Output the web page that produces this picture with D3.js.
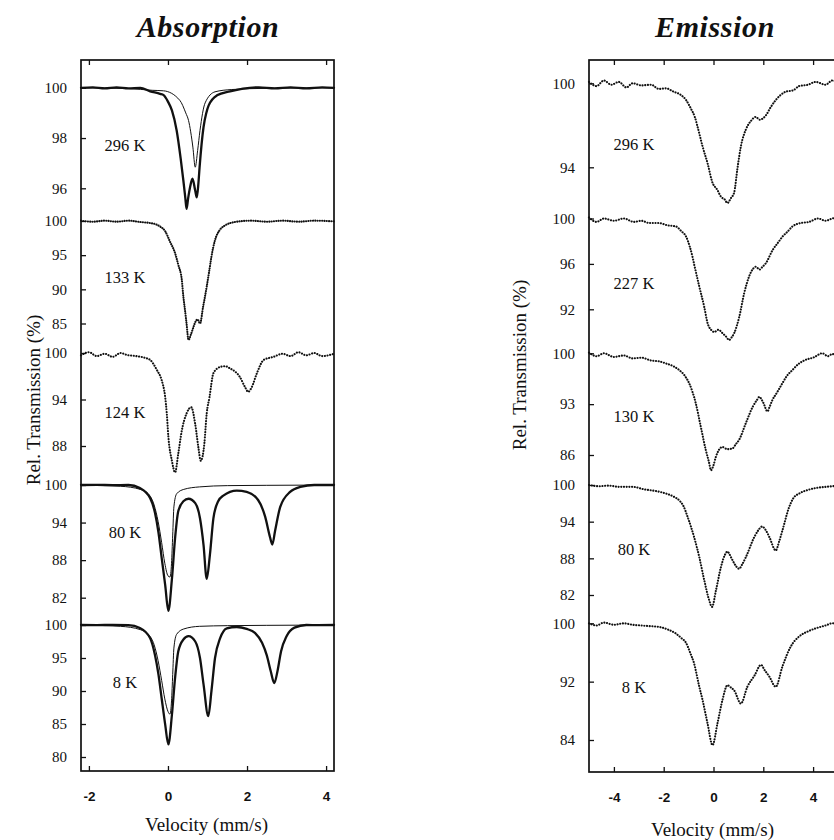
<!DOCTYPE html>
<html>
<head>
<meta charset="utf-8">
<script src="https://cdn.jsdelivr.net/npm/d3@7"></script>
<style>
  body { margin: 0; background: #fff; }
  svg text { fill: #111; }
</style>
</head>
<body>
<svg id="fig" width="834" height="840"></svg>
<script>
// ---- tick values and labels ----
const absVelTicks = [-2, 0, 2, 4];
const emiVelTicks = [-4, -2, 0, 2, 4];
const absTemps = ["296 K", "133 K", "124 K", "80 K", "8 K"];
const emiTemps = ["296 K", "227 K", "130 K", "80 K", "8 K"];
const absYTicks = [[100, 98, 96], [100, 95, 90, 85], [100, 94, 88], [100, 94, 88, 82], [100, 95, 90, 85, 80]];
const emiYTicks = [[100, 94], [100, 96, 92], [100, 93, 86], [100, 94, 88, 82], [100, 92, 84]];

// ---- absorption spectra: [velocity (mm/s), rel. transmission (%)] ----
const abs296 = [[-2.2,100.0],[-1.9,100.02],[-1.6,99.98],[-1.3,100.02],[-1.0,99.98],[-0.7,100.0],[-0.45,99.86],[-0.2,99.76],[-0.11,99.71],[0.0,99.45],[0.1,99.1],[0.22,98.3],[0.32,97.2],[0.39,96.3],[0.44,95.6],[0.47,95.18],[0.51,95.6],[0.56,96.05],[0.62,96.38],[0.69,95.9],[0.73,95.64],[0.77,96.2],[0.8,96.84],[0.9,98.44],[0.97,99.0],[1.03,99.3],[1.24,99.7],[1.57,99.86],[1.9,99.97],[2.3,100.02],[2.7,99.98],[3.1,100.02],[3.5,99.98],[3.9,100.02],[4.2,100.0]];
const abs296Fit = [[-2.2,100],[-1.0,99.97],[-0.4,99.9],[-0.11,99.88],[0.3,99.5],[0.45,99.0],[0.52,98.7],[0.63,97.64],[0.69,96.84],[0.75,97.5],[0.81,98.3],[0.94,99.4],[1.19,99.84],[1.6,99.93],[2.5,99.98],[4.2,100]];
const abs133 = [[-2.2,100.05],[-1.9,99.9],[-1.6,100.05],[-1.3,99.9],[-1.0,100.05],[-0.7,99.85],[-0.45,99.7],[-0.3,99.5],[-0.2,99.2],[-0.07,98.5],[0.05,97.0],[0.18,95.3],[0.26,93.6],[0.35,91.4],[0.39,88.9],[0.43,87.0],[0.47,85.0],[0.52,82.6],[0.58,83.4],[0.64,84.4],[0.7,85.3],[0.75,85.6],[0.81,85.0],[0.89,87.5],[0.98,90.4],[1.06,93.3],[1.1,94.8],[1.19,97.2],[1.3,98.6],[1.4,99.2],[1.74,99.9],[2.1,100.05],[2.5,99.9],[2.9,100.05],[3.3,99.9],[3.7,100.05],[4.2,99.95]];
const abs124 = [[-2.2,99.7],[-2.0,100.1],[-1.8,99.6],[-1.6,99.9],[-1.4,99.5],[-1.2,100.0],[-1.04,99.75],[-0.8,99.6],[-0.6,99.4],[-0.45,99.1],[-0.28,97.8],[-0.16,96.5],[-0.07,94.3],[-0.03,92.2],[0.01,89.2],[0.1,86.1],[0.18,84.6],[0.26,87.0],[0.35,90.0],[0.47,92.2],[0.59,93.0],[0.69,90.8],[0.77,87.8],[0.83,86.1],[0.92,88.3],[0.98,92.2],[1.05,94.3],[1.15,97.4],[1.32,98.2],[1.45,98.3],[1.57,98.0],[1.7,97.6],[1.82,96.9],[1.95,95.6],[2.03,95.0],[2.12,95.6],[2.25,97.4],[2.42,99.1],[2.67,99.5],[2.9,99.9],[3.1,99.6],[3.3,100.1],[3.5,99.7],[3.7,100.0],[3.9,99.6],[4.2,99.9]];
const abs80 = [[-2.2,100],[-1.8,100.02],[-1.4,99.98],[-1.0,100.0],[-0.71,99.5],[-0.45,97.9],[-0.33,95.6],[-0.24,92.4],[-0.16,88.4],[-0.07,84.0],[0.01,79.9],[0.1,85.0],[0.18,91.5],[0.26,95.8],[0.39,97.4],[0.52,97.8],[0.69,97.1],[0.81,94.7],[0.9,90.4],[0.98,85.0],[1.06,88.8],[1.15,94.7],[1.27,97.4],[1.4,98.3],[1.74,99.1],[1.99,98.9],[2.28,97.6],[2.46,94.9],[2.58,91.7],[2.64,90.5],[2.71,92.7],[2.84,96.5],[3.09,98.9],[3.35,99.7],[3.7,100.0],[4.2,100.0]];
const abs80Fit = [[-2.2,100],[-1.2,99.8],[-0.7,99.3],[-0.5,98.6],[-0.35,96.8],[-0.25,94.2],[-0.16,90.8],[-0.08,87.5],[0.0,85.5],[0.05,85.3],[0.09,87.5],[0.12,92.0],[0.15,96.5],[0.22,98.6],[0.4,99.3],[0.8,99.7],[1.5,99.9],[2.5,99.95],[4.2,100]];
const abs8 = [[-2.2,100],[-1.8,99.98],[-1.4,100.02],[-1.0,99.97],[-0.71,99.55],[-0.45,98.0],[-0.33,95.5],[-0.24,92.5],[-0.16,88.9],[-0.07,84.9],[0.01,81.9],[0.1,86.4],[0.18,92.0],[0.26,96.0],[0.39,97.8],[0.52,98.3],[0.69,97.5],[0.81,95.0],[0.9,91.0],[1.02,86.2],[1.1,90.0],[1.19,95.0],[1.32,98.0],[1.49,99.5],[1.74,99.7],[1.99,99.4],[2.2,98.8],[2.38,97.3],[2.5,95.4],[2.6,93.0],[2.69,91.2],[2.77,93.0],[2.86,96.0],[3.0,98.3],[3.2,99.6],[3.5,100.0],[3.8,99.98],[4.2,100]];
const abs8Fit = [[-2.2,100],[-1.2,99.8],[-0.7,99.3],[-0.5,98.6],[-0.35,97.0],[-0.25,94.6],[-0.16,91.6],[-0.08,88.8],[0.0,86.9],[0.05,86.5],[0.09,88.5],[0.12,92.5],[0.15,96.5],[0.22,98.6],[0.4,99.4],[0.8,99.8],[1.5,99.9],[2.5,99.95],[4.2,100]];

// ---- emission spectra ----
const emi296 = [[-5.0,100.1],[-4.7,99.8],[-4.4,100.2],[-4.1,99.9],[-3.8,100.1],[-3.5,99.7],[-3.25,100.0],[-2.9,99.85],[-2.5,99.9],[-2.2,99.6],[-1.91,99.64],[-1.6,99.4],[-1.31,99.17],[-1.1,98.8],[-0.91,98.2],[-0.75,97.6],[-0.64,96.9],[-0.44,95.5],[-0.24,94.3],[-0.04,92.9],[0.15,92.4],[0.3,91.9],[0.45,91.7],[0.56,91.45],[0.7,91.8],[0.83,92.2],[0.96,93.9],[1.1,95.5],[1.3,96.7],[1.5,97.3],[1.7,97.6],[1.85,97.4],[2.1,97.7],[2.3,98.3],[2.5,98.8],[2.9,99.4],[3.2,99.5],[3.44,99.8],[3.8,99.9],[4.1,100.1],[4.5,99.9],[4.77,100.2],[5.0,100.1]];
const emi227 = [[-5.0,100.1],[-4.7,99.7],[-4.4,100.0],[-4.0,99.8],[-3.6,100.0],[-3.2,99.7],[-2.9,99.8],[-2.58,99.6],[-2.2,99.6],[-1.85,99.4],[-1.51,99.3],[-1.3,98.9],[-1.1,98.4],[-0.95,97.5],[-0.84,96.6],[-0.78,96.0],[-0.57,94.0],[-0.37,92.2],[-0.24,90.8],[-0.1,90.2],[0.03,90.0],[0.2,90.2],[0.36,89.9],[0.5,89.6],[0.63,89.3],[0.75,89.6],[0.83,89.9],[1.03,91.3],[1.23,93.4],[1.43,94.9],[1.6,95.6],[1.7,95.75],[1.85,95.5],[1.97,95.75],[2.1,96.05],[2.37,97.2],[2.6,97.9],[2.77,98.4],[3.0,98.9],[3.17,99.3],[3.5,99.6],[3.84,99.7],[4.2,100.0],[4.5,99.8],[4.77,100.0],[5.0,100.1]];
const emi130 = [[-5.0,100.1],[-4.7,99.6],[-4.4,100.0],[-4.0,99.5],[-3.6,99.7],[-3.25,99.3],[-2.9,99.4],[-2.5,99.0],[-2.2,98.9],[-1.91,98.6],[-1.6,98.2],[-1.38,97.7],[-1.15,96.9],[-0.98,95.9],[-0.71,93.1],[-0.51,89.9],[-0.31,86.7],[-0.18,85.0],[-0.1,83.9],[0.0,84.6],[0.1,85.8],[0.2,86.6],[0.36,87.1],[0.55,86.8],[0.76,86.9],[0.9,87.5],[1.03,88.1],[1.3,90.4],[1.57,92.6],[1.75,93.6],[1.84,94.0],[2.0,93.2],[2.17,92.0],[2.25,92.6],[2.37,93.6],[2.55,94.6],[2.77,95.9],[2.95,96.9],[3.17,97.7],[3.4,98.5],[3.7,99.1],[4.0,99.4],[4.37,100.0],[4.6,99.6],[4.77,99.9],[5.0,99.6]];
const emi80 = [[-5.0,100.0],[-4.6,99.8],[-4.2,99.9],[-3.8,99.7],[-3.25,99.7],[-2.8,99.3],[-2.3,99.0],[-1.91,98.6],[-1.6,98.1],[-1.38,97.5],[-1.2,96.5],[-1.04,94.8],[-0.78,91.5],[-0.57,88.2],[-0.37,84.4],[-0.17,81.1],[-0.06,80.05],[0.1,82.8],[0.3,86.6],[0.45,88.5],[0.56,89.1],[0.7,88.2],[0.83,87.2],[1.03,86.3],[1.15,87.0],[1.3,88.2],[1.64,91.5],[1.8,92.6],[1.95,93.2],[2.1,92.6],[2.24,91.5],[2.5,89.3],[2.64,90.8],[2.77,92.6],[3.04,96.4],[3.2,97.8],[3.44,98.6],[3.8,99.2],[4.1,99.5],[4.5,99.7],[4.77,99.8],[5.0,99.9]];
const emi8 = [[-5.0,100.0],[-4.7,99.7],[-4.4,100.1],[-4.0,99.8],[-3.6,100.0],[-3.25,99.8],[-2.9,99.7],[-2.5,99.6],[-2.18,99.5],[-1.8,99.1],[-1.51,98.6],[-1.3,98.0],[-1.1,97.3],[-0.94,96.0],[-0.78,94.5],[-0.57,91.3],[-0.44,89.5],[-0.24,86.3],[-0.04,83.3],[0.16,86.3],[0.36,89.5],[0.56,91.5],[0.7,91.2],[0.83,90.8],[1.1,89.0],[1.36,91.3],[1.64,92.8],[1.91,94.3],[2.05,93.6],[2.24,92.7],[2.5,91.3],[2.77,94.1],[3.1,96.8],[3.44,98.2],[3.8,98.9],[4.1,99.3],[4.5,99.7],[4.77,100.0],[5.0,99.9]];

// ---- figure layout (pixels) ----
const absFrame = { left: 81, right: 334, top: 60, bottom: 771, xDomain: [-2.2, 4.2], titleX: 208, tempX: 125,
  yTitleX: 40, yTitleY: 400, xTitleY: 831,
  rows: [ {y100: 87.8, yLow: 188.3, tempY: 151}, {y100: 221, yLow: 323.5, tempY: 283},
          {y100: 353, yLow: 446, tempY: 418}, {y100: 485, yLow: 597.7, tempY: 538},
          {y100: 625, yLow: 757, tempY: 688} ] };
const emiFrame = { left: 589, right: 838, top: 60, bottom: 772, xDomain: [-5, 5], titleX: 715, tempX: 634,
  yTitleX: 526, yTitleY: 365, xTitleY: 836,
  rows: [ {y100: 83.3, yLow: 167.3, tempY: 150}, {y100: 218.5, yLow: 309.3, tempY: 289},
          {y100: 353.3, yLow: 455, tempY: 422}, {y100: 485, yLow: 595, tempY: 555},
          {y100: 623.3, yLow: 740, tempY: 693} ] };

const serif = "'Liberation Serif', 'Times New Roman', serif";
const sans = "'Liberation Sans', Arial, sans-serif";

const svg = d3.select("#fig");

function drawPanel(cfg) {
  const f = cfg.frame;
  const g = svg.append("g");
  const x = d3.scaleLinear().domain(f.xDomain).range([f.left, f.right]);

  // title
  g.append("text").attr("x", f.titleX).attr("y", 37).attr("text-anchor", "middle")
    .style("font-family", serif).style("font-size", "30px").style("font-weight", "bold")
    .style("font-style", "italic").style("letter-spacing", "0.6px").text(cfg.title);

  // spectra, one stacked row per temperature
  cfg.spectra.forEach((s, i) => {
    const r = f.rows[i];
    const ticks = cfg.yTicks[i];
    const y = d3.scaleLinear().domain([d3.min(ticks), 100]).range([r.yLow, r.y100]);

    const ax = d3.axisLeft(y).tickValues(ticks).tickSize(-5).tickPadding(14).tickFormat(d3.format("d"));
    const axg = g.append("g").attr("transform", `translate(${f.left},0)`).call(ax);
    axg.select(".domain").remove();
    axg.selectAll("line").attr("stroke", "#111").attr("stroke-width", 1.3);
    axg.selectAll("text").style("font-family", serif).style("font-size", "15px").attr("fill", "#111");

    const line = d3.line().x(d => x(d[0])).y(d => y(d[1])).curve(d3.curveMonotoneX);

    if (s.fit) {
      g.append("path").datum(s.fit).attr("d", line).attr("fill", "none")
        .attr("stroke", "#111").attr("stroke-width", 1);
    }
    const p = g.append("path").datum(s.data).attr("d", line).attr("fill", "none")
      .attr("stroke", "#111").attr("stroke-linecap", "round").attr("stroke-linejoin", "round");
    if (s.dense) {
      p.attr("stroke-width", 2.3);
    } else {
      p.attr("stroke-width", 2.1).attr("stroke-dasharray", s.gap ? `0.1 ${s.gap}` : "0.1 2.6");
    }

    g.append("text").attr("x", f.tempX).attr("y", r.tempY).attr("text-anchor", "middle")
      .style("font-family", serif).style("font-size", "16.5px").text(cfg.temps[i]);
  });

  // velocity axes: labelled bottom, bare top, ticks pointing inward
  const bx = d3.axisBottom(x).tickValues(cfg.xTicks).tickSize(-5).tickPadding(20).tickFormat(d3.format("d"));
  const bg = g.append("g").attr("transform", `translate(0,${f.bottom})`).call(bx);
  bg.select(".domain").remove();
  bg.selectAll("line").attr("stroke", "#111").attr("stroke-width", 1.3);
  bg.selectAll("text").style("font-family", sans).style("font-size", "13.5px")
    .style("font-weight", "bold").attr("fill", "#111").text(d => d < 0 ? "-" + Math.abs(d) : d);
  const tx = d3.axisTop(x).tickValues(cfg.xTicks).tickSize(-5).tickFormat("");
  const tg = g.append("g").attr("transform", `translate(0,${f.top})`).call(tx);
  tg.select(".domain").remove();
  tg.selectAll("line").attr("stroke", "#111").attr("stroke-width", 1.3);

  // frame
  g.append("rect").attr("x", f.left).attr("y", f.top)
    .attr("width", f.right - f.left).attr("height", f.bottom - f.top)
    .attr("fill", "none").attr("stroke", "#111").attr("stroke-width", 1.7);

  // axis titles
  g.append("text").attr("x", (f.left + f.right) / 2 - 1).attr("y", f.xTitleY).attr("text-anchor", "middle")
    .style("font-family", serif).style("font-size", "19px").text("Velocity (mm/s)");
  g.append("text").attr("transform", `translate(${f.yTitleX},${f.yTitleY}) rotate(-90)`)
    .attr("text-anchor", "middle").style("font-family", serif).style("font-size", "19px")
    .text("Rel. Transmission (%)");
}

drawPanel({
  title: "Absorption", frame: absFrame, xTicks: absVelTicks, temps: absTemps, yTicks: absYTicks,
  spectra: [
    { data: abs296, fit: abs296Fit, dense: true },
    { data: abs133, gap: 2.2 },
    { data: abs124 },
    { data: abs80, fit: abs80Fit, dense: true },
    { data: abs8, fit: abs8Fit, dense: true }
  ]
});

drawPanel({
  title: "Emission", frame: emiFrame, xTicks: emiVelTicks, temps: emiTemps, yTicks: emiYTicks,
  spectra: [ { data: emi296 }, { data: emi227 }, { data: emi130 }, { data: emi80 }, { data: emi8 } ]
});
</script>
</body>
</html>
